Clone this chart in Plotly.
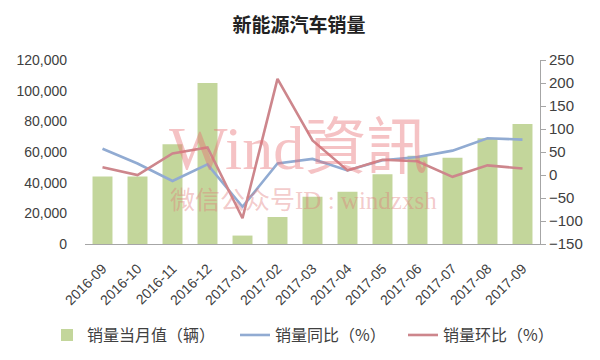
import plotly.graph_objects as go

months = ["2016-09", "2016-10", "2016-11", "2016-12", "2017-01", "2017-02", "2017-03",
          "2017-04", "2017-05", "2017-06", "2017-07", "2017-08", "2017-09"]
sales = [44000, 44000, 65000, 105000, 5500, 17600, 30800, 34100, 45500, 57500, 56300, 69000, 78300]
yoy = [57, 25, -13, 23, -69, 25, 35, 10, 32, 39, 53, 80, 77]
mom = [17, 0, 47, 60, -94, 209, 75, 10, 33, 30, -4, 21, 14]

left_ticks = [0, 20000, 40000, 60000, 80000, 100000, 120000]
right_ticks = [-150, -100, -50, 0, 50, 100, 150, 200, 250]

FONT = "Liberation Sans, Noto Sans CJK SC, sans-serif"

W, H = 592, 352  # page body has an 8px margin

fig = go.Figure()
fig.add_trace(go.Bar(x=months, y=sales, name="销量当月值（辆）", marker_color="#c3d69b",
                     marker_line_width=0, yaxis="y", legendwidth=143))
fig.add_trace(go.Scatter(x=months, y=yoy, name="销量同比（%）", mode="lines",
                         line=dict(color="#91abd2", width=2.6), yaxis="y2", legendwidth=123))
fig.add_trace(go.Scatter(x=months, y=mom, name="销量环比（%）", mode="lines",
                         line=dict(color="#cd868c", width=2.6), yaxis="y2"))

fig.update_layout(
    width=W, height=H,
    margin=dict(l=77, r=60, t=52, b=116, autoexpand=False),
    paper_bgcolor="white", plot_bgcolor="white",
    font=dict(family=FONT, color="#404040", size=14),
    title=dict(text="<b>新能源汽车销量</b>", x=(299 - 8) / W, xanchor="center", y=1 - 17 / H,
               yanchor="middle", yref="container",
               font=dict(family="Noto Sans CJK SC, sans-serif", size=19, color="#222222")),
    bargap=0.43,
    xaxis=dict(type="category", showline=True, linecolor="#a6a6a6", linewidth=1,
               showgrid=False, ticks="", tickangle=-45, tickfont=dict(size=14),
               ticklabelstandoff=10, automargin=False),
    yaxis=dict(range=[0, 120000], tickvals=left_ticks, tickformat=",", showgrid=False,
               zeroline=False, showline=False, ticks="", tickfont=dict(size=14),
               ticklabelstandoff=17, automargin=False),
    yaxis2=dict(range=[-150, 250], tickvals=right_ticks, overlaying="y", side="right",
                showgrid=False, zeroline=False, showline=True, linecolor="#a6a6a6",
                ticks="outside", ticklen=5, tickcolor="#a6a6a6", tickfont=dict(size=15),
                automargin=False),
    legend=dict(orientation="h", x=-0.0835, xanchor="left", y=-0.495, yanchor="middle",
                font=dict(size=16, family="Noto Sans CJK SC, sans-serif", color="#404040"),
                itemwidth=30, bgcolor="rgba(0,0,0,0)"),
    showlegend=True,
)

fig.add_annotation(text="Wind資訊", xref="paper", yref="paper", x=0.469, y=0.52,
                   xanchor="center", yanchor="middle", showarrow=False,
                   font=dict(family="Liberation Serif, Noto Sans CJK TC, serif", size=62,
                             color="rgba(232,110,115,0.42)"))
fig.add_annotation(text="微信公众号ID : windzxsh", xref="paper", yref="paper", x=0.48, y=0.239,
                   xanchor="center", yanchor="middle", showarrow=False,
                   font=dict(family="Liberation Serif, Noto Sans CJK SC, serif", size=25,
                             color="rgba(225,120,120,0.4)"))

fig.write_html("out.html")
